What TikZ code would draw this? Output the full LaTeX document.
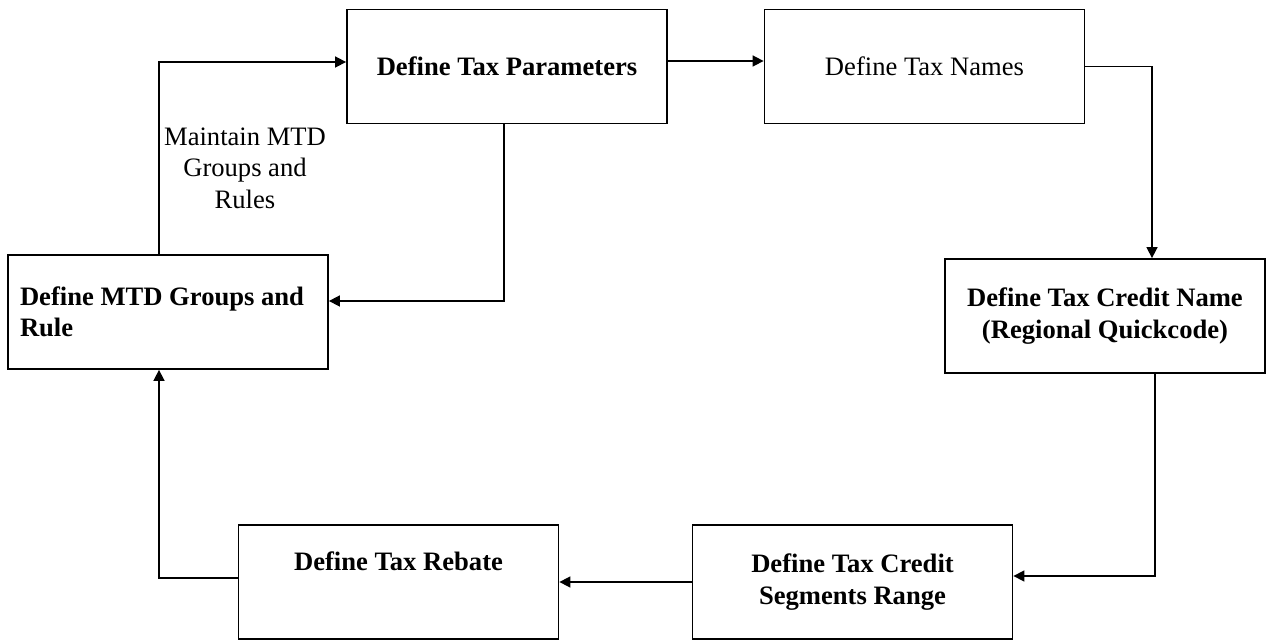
\documentclass[tikz,border=0pt]{standalone}
\usepackage{fontspec}
\setmainfont{Liberation Serif}
\usetikzlibrary{arrows.meta}

\tikzstyle{every node}=[font=\fontsize{13.3pt}{15.8pt}\selectfont]
\tikzstyle{stage}=[draw, line width=0.9pt, minimum width=160pt, minimum height=57pt, align=center, inner sep=0pt, font=\fontsize{13.3pt}{15.8pt}\selectfont\bfseries]
\tikzstyle{link}=[line width=0.8pt, -{Triangle[length=5.5pt,width=5.5pt]}]

\begin{document}
\begin{tikzpicture}[x=0.5pt, y=-0.5pt]
    \useasboundingbox (0,0) rectangle (1270,641);

    % Boxes
    \node[stage] (params) at (507,66.5) {Define Tax Parameters};
    \node[stage, font=\fontsize{13.3pt}{15.8pt}\selectfont] (names) at (924.5,66.5) {Define Tax Names};
    \node[stage] (credit) at (1105,316) {Define Tax Credit Name\\(Regional Quickcode)};
    \node[stage] (segments) at (852.5,582) {Define Tax Credit\\Segments Range};
    \node[stage] (rebate) at (398.5,582) {Define Tax Rebate\\\strut};
    \node[stage, align=flush left, text width=148pt, inner xsep=5.5pt] (mtd) at (168,312) {Define MTD Groups and\\Rule};

    % Label on the return arrow
    \node[align=center] (maintain) at (245,168) {Maintain MTD\\Groups and\\Rules};

    % Arrows
    \draw[link] ([xshift=-4.5pt]mtd.north) |- ([yshift=2.25pt]params.west);
    \draw[link] ([yshift=2.75pt]params.east) -- ([yshift=2.75pt]names.west);
    \draw[link] (names.east) -| ([xshift=23.5pt]credit.north);
    \draw[link] ([xshift=25pt]credit.south) |- ([yshift=3pt]segments.east);
    \draw[link] (segments.west) -- (rebate.east);
    \draw[link] ([xshift=-1.5pt]params.south) |- ([yshift=5.5pt]mtd.east);
    \draw[link] ([yshift=2pt]rebate.west) -| ([xshift=-4.5pt]mtd.south);
\end{tikzpicture}
\end{document}
